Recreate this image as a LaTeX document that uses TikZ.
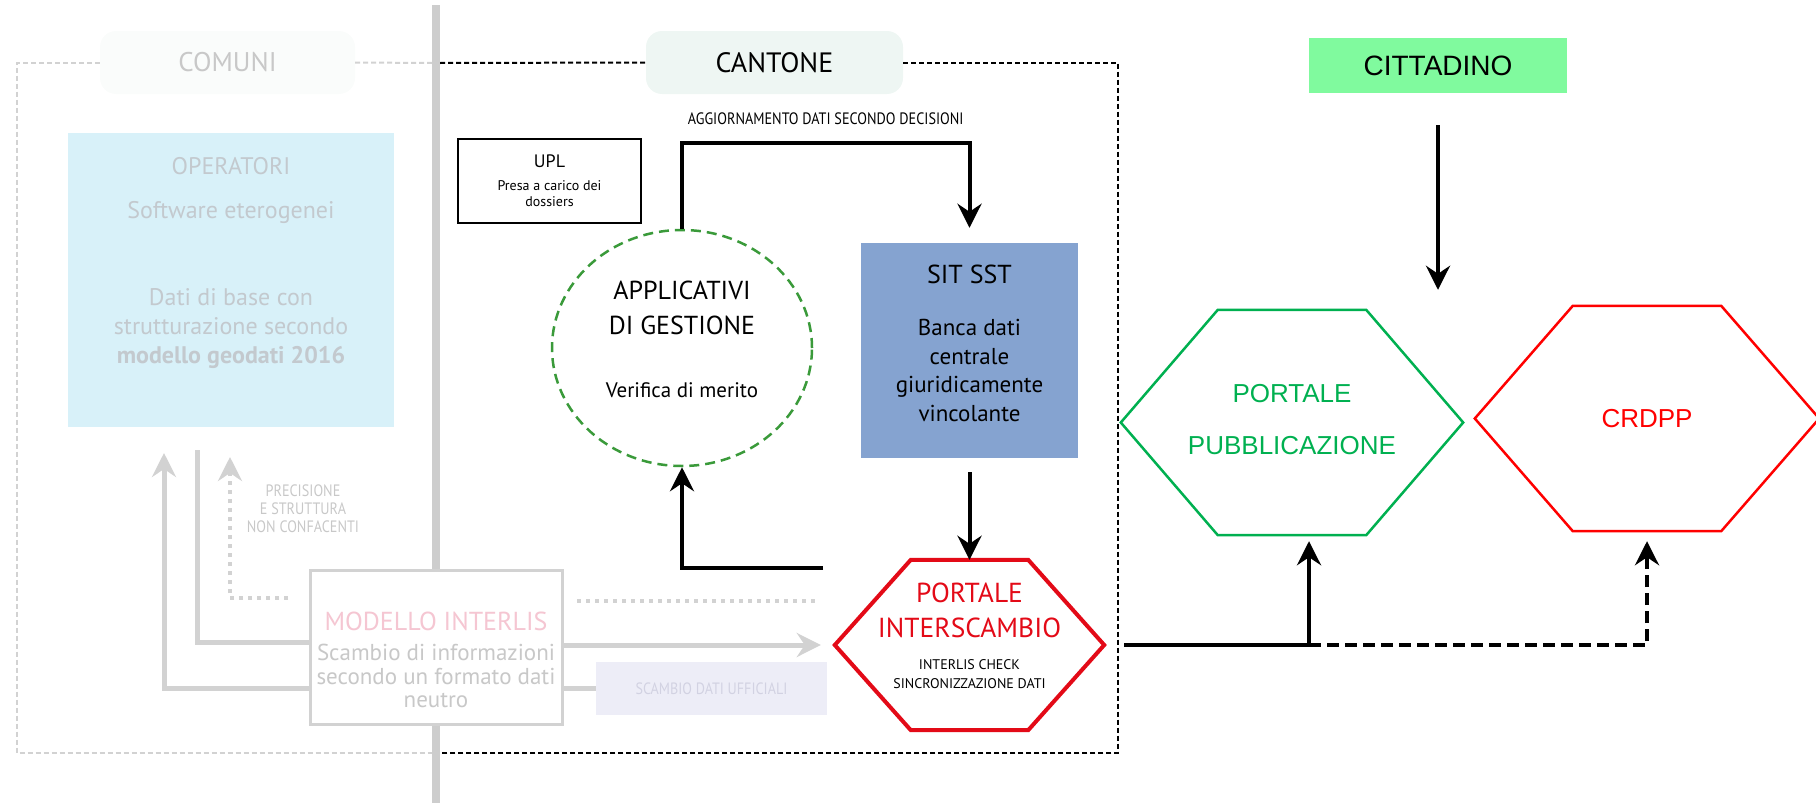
\documentclass[tikz,border=0pt]{standalone}
\usepackage{fontspec}
\setmainfont{PT Sans}
\newfontfamily\arialfont{Liberation Sans}
\newfontfamily\strettofont[FakeStretch=0.86]{PT Sans}
\usetikzlibrary{arrows.meta,shapes.geometric}
\definecolor{grigio}{HTML}{D2D2D2}
\definecolor{barra}{HTML}{CDCDCD}
\definecolor{testogrigio}{HTML}{C8C8C8}
\definecolor{testociano}{HTML}{C3C9CE}
\definecolor{testolav}{HTML}{D2D2E2}
\definecolor{ciano}{HTML}{D8F1F9}
\definecolor{lavanda}{HTML}{EDEDF7}
\definecolor{blu}{HTML}{85A3D0}
\definecolor{verdechiaro}{HTML}{80FA9E}
\definecolor{verde}{HTML}{00B050}
\definecolor{verdetratt}{HTML}{3A9A3A}
\definecolor{rosso}{HTML}{FF0000}
\definecolor{rossoPI}{HTML}{E30A17}
\definecolor{rosa}{HTML}{F5C6D2}
\definecolor{menta}{HTML}{EEF6F3}
\definecolor{quasibianco}{HTML}{FAFCFB}
\newcommand{\esagono}[3]{\draw[#3](#1.west)--([xshift=#2]#1.north west)--([xshift=-#2]#1.north east)--(#1.east)--([xshift=-#2]#1.south east)--([xshift=#2]#1.south west)--cycle;}
\begin{document}
\begin{tikzpicture}[x=1pt, y=-1pt, >={Stealth[length=24pt,width=24pt,inset=8pt]},
  freccia/.style={->, line width=4pt},
  grigia/.style={grigio, line width=5pt},
  puntini/.style={grigio, line width=4pt, dash pattern=on 4pt off 5pt},
  cornice/.style={line width=2pt, dash pattern=on 5pt off 3pt},
  etichetta/.style={rounded corners=16pt, minimum width=#1, minimum height=63pt, inner sep=0pt},
  testo/.style={align=center, inner sep=0pt, anchor=north}]
\useasboundingbox(0,0)rectangle(1816,803);
\node[draw=grigio, line width=3pt, fill=white, minimum width=252pt, minimum height=154pt](MI) at (436,647){};
\draw[barra, line width=8pt](436,5)--(MI.north);
\draw[barra, line width=8pt](MI.south)--(436,803);
\node[etichetta=255pt, fill=quasibianco, text=testogrigio, font=\fontsize{27}{27}\selectfont](COM) at (227.5,62.5){COMUNI};
\node[etichetta=257pt, fill=menta, font=\fontsize{28}{28}\selectfont](CAN) at (774.5,62.5){CANTONE};
\node[fill=verdechiaro, minimum width=258pt, minimum height=55pt, font=\arialfont\fontsize{28}{28}\selectfont](CI) at (1438,65.5){CITTADINO};
\draw[cornice, grigio](COM.west)-|(17,753)--(432,753);
\draw[cornice, grigio](COM.east)--(432,63);
\draw[cornice](440,63)--(CAN.west);
\draw[cornice](CAN.east)-|(1118,753)--(440,753);

\node[fill=ciano, minimum width=326pt, minimum height=294pt](OP) at (231,280){};
\node[testo, text=testociano, font=\fontsize{24}{29}\selectfont] at (231,157){OPERATORI\\[15pt]Software eterogenei\\[58pt]Dati di base con\\strutturazione secondo\\\textbf{modello geodati 2016}};
\node[testo, font=\fontsize{23}{23.5}\selectfont, text=testogrigio] at (436,612){{\color{rosa}\fontsize{26}{26}\selectfont MODELLO INTERLIS}\\[6.5pt]Scambio di informazioni\\secondo un formato dati\\neutro};
\node[fill=lavanda, minimum width=231pt, minimum height=53pt, text=testolav, font=\strettofont\fontsize{16.4}{16.4}\selectfont](SD) at (711.5,688.5){SCAMBIO DATI UFFICIALI};
\node[testo, text=testogrigio, font=\strettofont\fontsize{16.5}{18}\selectfont] at (303,485){PRECISIONE\\E STRUTTURA\\NON CONFACENTI};

\node[draw, line width=2.5pt, minimum width=183pt, minimum height=84pt, align=center, font=\fontsize{14}{16}\selectfont](UPL) at (549.5,181){{\fontsize{18}{18}\selectfont UPL}\\[7pt]Presa a carico dei\\dossiers};
\node[ellipse, draw=verdetratt, line width=2.5pt, dash pattern=on 10pt off 6pt, minimum width=260pt, minimum height=236pt](APP) at (682,348){};
\node[testo, font=\fontsize{26}{35}\selectfont] at (682,281){APPLICATIVI\\DI GESTIONE\\[28pt]{\fontsize{21}{21}\selectfont Verifica di merito}};
\node[fill=blu, minimum width=217pt, minimum height=215pt](SIT) at (969.5,350.5){};
\node[testo, font=\fontsize{23}{28.7}\selectfont] at (969.5,265){{\fontsize{26}{26}\selectfont SIT SST}\\[23pt]Banca dati\\centrale\\giuridicamente\\vincolante};
\node[minimum width=269pt, minimum height=170pt](PI) at (969.5,645){};
\esagono{PI}{76pt}{rossoPI, line width=4pt}
\node[testo, text=rossoPI, font=\fontsize{27.5}{35}\selectfont] at (969.5,583){PORTALE\\INTERSCAMBIO};
\node[testo, font=\fontsize{14}{19}\selectfont] at (969.5,659){INTERLIS CHECK\\SINCRONIZZAZIONE DATI};

\node[minimum width=342pt, minimum height=225pt](PP) at (1292,422.5){};
\esagono{PP}{97pt}{verde, line width=2.5pt}
\node[testo, text=verde, font=\arialfont\fontsize{26}{52}\selectfont] at (1292,384){PORTALE\\PUBBLICAZIONE};
\node[minimum width=344pt, minimum height=225pt, text=rosso, font=\arialfont\fontsize{26}{26}\selectfont](CR) at (1647,418.5){CRDPP};
\esagono{CR}{98pt}{rosso, line width=2.5pt}

\draw[grigia](197,450)|-([yshift=5pt]MI.west);
\draw[grigia,->](MI.east|-PI.west)--([xshift=-14pt]PI.west);
\draw[grigia](SD.west)--(MI.east|-SD.west);
\draw[grigia,->](MI.west|-SD.west)-|(164,453);
\draw[puntini,->](288,598)-|(230,457);
\draw[puntini](577,601)--(818,601);

\coordinate(AG) at (825,143);
\draw[freccia, shorten >=15pt](APP.north)--(APP.north|-AG)--node[above=16pt, inner sep=0pt, font=\strettofont\fontsize{16.5}{16.5}\selectfont]{AGGIORNAMENTO DATI SECONDO DECISIONI}(SIT.north|-AG)--(SIT.north);
\draw[freccia, shorten <=14pt](SIT.south)--(PI.north);
\coordinate(L) at (823,568);
\draw[freccia](L)-|(APP.south);
\draw[freccia, shorten <=32pt, shorten >=20pt](CI.south)--(CI.south|-PP.north);
\coordinate(B) at (1309,645);
\draw[freccia, shorten >=6pt]([xshift=20pt]PI.east)--(B)--(B|-PP.south);
\draw[freccia, dash pattern=on 12pt off 6pt, shorten >=10pt](B)-|(CR.south);
\end{tikzpicture}
\end{document}
